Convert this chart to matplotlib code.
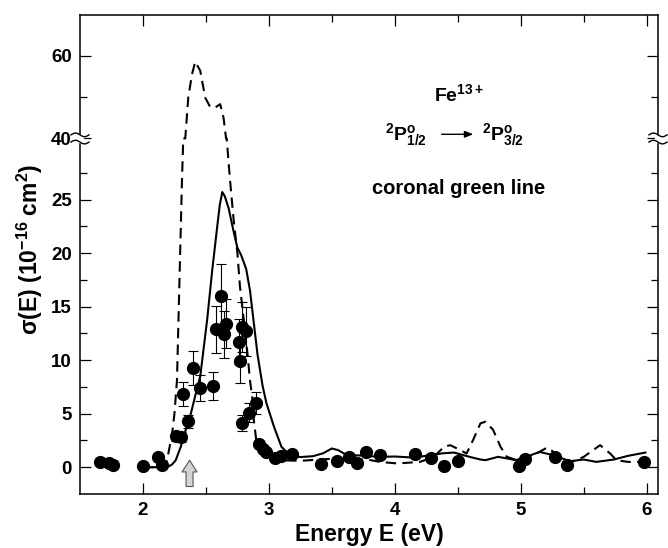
import numpy as np
import matplotlib
matplotlib.use("Agg")
import matplotlib.pyplot as plt
from matplotlib.ticker import FixedLocator

plt.rcParams.update({
    "font.family": "Liberation Sans",
    "font.weight": "bold",
    "axes.labelweight": "bold",
    "mathtext.fontset": "custom",
    "mathtext.rm": "Liberation Sans:bold",
    "mathtext.bf": "Liberation Sans:bold",
    "mathtext.it": "Liberation Sans",
    "mathtext.default": "rm",
})

# --- measured cross section (points with error bars) ---
e_data = [1.66, 1.73, 1.76, 2.00, 2.12, 2.15, 2.26, 2.30, 2.32, 2.36, 2.40, 2.45,
          2.56, 2.58, 2.62, 2.64, 2.66, 2.76, 2.77, 2.79, 2.82, 2.79, 2.84, 2.90,
          2.92, 2.95, 2.98, 3.05, 3.10, 3.18, 3.41, 3.54, 3.64, 3.70, 3.77, 3.88,
          4.16, 4.29, 4.39, 4.50, 4.99, 5.03, 5.27, 5.37, 5.98]
sig_data = [0.45, 0.35, 0.2, 0.1, 1.0, 0.25, 2.9, 2.85, 6.85, 4.3, 9.3, 7.4,
            7.6, 12.9, 16.0, 12.4, 13.4, 11.7, 9.9, 13.1, 12.7, 4.15, 5.1, 6.0,
            2.2, 1.7, 1.45, 0.9, 1.05, 1.2, 0.3, 0.56, 1.0, 0.4, 1.4, 1.1,
            1.25, 0.87, 0.1, 0.6, 0.09, 0.81, 0.97, 0.25, 0.5]
err_data = [0, 0, 0, 0, 0, 0, 0.45, 0.45, 1.15, 0.6, 1.6, 1.25,
            1.3, 2.2, 3.0, 2.2, 2.3, 2.1, 2.0, 2.3, 2.3, 0.75, 0.9, 1.0,
            0, 0, 0, 0, 0, 0, 0, 0, 0, 0, 0, 0,
            0, 0, 0, 0, 0, 0, 0, 0, 0]

# --- theory, solid curve ---
e_solid = [2.00, 2.10, 2.17, 2.20, 2.23, 2.26, 2.30, 2.34, 2.38, 2.42, 2.455, 2.51,
           2.55, 2.59, 2.61, 2.63, 2.65, 2.68, 2.72, 2.75, 2.78, 2.82, 2.85, 2.88,
           2.91, 2.95, 2.98, 3.04, 3.10, 3.17, 3.25, 3.35, 3.43, 3.50, 3.55, 3.62,
           3.72, 3.88, 4.00, 4.15, 4.28, 4.38, 4.47, 4.60, 4.68, 4.72, 4.82, 4.90,
           4.96, 5.05, 5.15, 5.26, 5.39, 5.50, 5.60, 5.74, 5.85, 5.99]
sig_solid = [0.0, 0.0, 0.0, 0.05, 0.25, 0.65, 1.9, 3.5, 5.0, 6.9, 8.5, 13.8,
             18.4, 22.5, 24.5, 25.7, 25.3, 24.2, 22.0, 20.5, 19.8, 18.5, 16.5, 13.5,
             10.5, 7.6, 6.0, 3.8, 1.9, 1.1, 0.95, 1.03, 1.3, 1.75, 1.6, 1.12,
             1.1, 0.97, 1.0, 0.9, 1.12, 1.3, 1.37, 0.95, 0.72, 0.66, 0.97, 0.8,
             0.66, 1.0, 1.43, 1.12, 0.56, 0.72, 0.5, 0.72, 1.06, 1.37]

# --- theory, dashed curve ---
e_dash = [2.00, 2.12, 2.17, 2.19, 2.23, 2.25, 2.27, 2.29, 2.31, 2.32, 2.336, 2.36,
          2.39, 2.415, 2.455, 2.494, 2.534, 2.574, 2.613, 2.64, 2.66, 2.665, 2.69, 2.72,
          2.75, 2.77, 2.80, 2.83, 2.85, 2.87, 2.88, 2.90, 2.96, 3.06, 3.25, 3.51,
          3.62, 3.78, 3.88, 4.02, 4.20, 4.31, 4.39, 4.44, 4.52, 4.57, 4.62, 4.68,
          4.72, 4.78, 4.84, 4.89, 4.97, 5.10, 5.21, 5.26, 5.34, 5.42, 5.50, 5.63,
          5.71, 5.76, 5.85, 5.97]
sig_dash = [0.0, 0.0, 0.2, 0.6, 3.0, 5.0, 8.1, 17.5, 26.9, 30.7, 40.0, 50.0,
            55.6, 58.6, 56.4, 49.9, 47.6, 47.5, 48.3, 45.0, 40.0, 30.7, 27.0, 23.1,
            20.0, 16.9, 13.8, 10.6, 8.1, 6.3, 4.4, 2.5, 1.28, 0.66, 0.6, 0.8,
            0.66, 0.72, 0.5, 0.35, 0.5, 0.97, 1.9, 2.06, 1.6, 1.28, 2.5, 4.1,
            4.25, 3.5, 1.9, 0.97, 0.66, 1.12, 1.84, 1.43, 0.66, 0.56, 0.97, 2.06,
            1.28, 0.66, 0.5, 0.5]

threshold_e = 2.37

# broken y axis: 0..30.7 linear, 40..70 compressed
B, U0, R, EPS = 30.7, 40.0, 0.385, 0.001
T0 = B + (U0 - B) * EPS


def fwd(y):
    y = np.asarray(y, float)
    return np.where(y <= B, y,
                    np.where(y < U0, B + (y - B) * EPS, T0 + (y - U0) * R))


def inv(t):
    t = np.asarray(t, float)
    with np.errstate(all="ignore"):
        return np.where(t <= B, t,
                        np.where(t < T0, B + (t - B) / EPS, U0 + (t - T0) / R))


fig = plt.figure(figsize=(6.68, 5.48), dpi=100)
ax = fig.add_axes([80 / 668, 54 / 548, 578 / 668, 479.3 / 548])
ax.set_yscale("function", functions=(fwd, inv))
ax.set_xlim(1.5, 6.09)
ax.set_ylim(-2.5, 70)

ax.plot(e_dash, sig_dash, color="black", lw=1.5, ls=(0, (5, 3)))
ax.plot(e_solid, sig_solid, color="black", lw=1.5)

e_arr, s_arr, d_arr = np.array(e_data), np.array(sig_data), np.array(err_data)
m = d_arr > 0
ax.errorbar(e_arr[m], s_arr[m], yerr=d_arr[m], fmt="none", ecolor="black",
            elinewidth=0.8, capsize=3.6, capthick=0.8)
ax.plot(e_arr, s_arr, "o", color="black", ms=8.5)

# threshold arrow
ax.annotate("", xy=(threshold_e, 0.65), xytext=(threshold_e, -1.8),
            arrowprops=dict(arrowstyle="simple,head_length=0.7,head_width=0.9,tail_width=0.42",
                            fc="#d4d4d4", ec="#555555", lw=0.8, mutation_scale=12,
                            shrinkA=0, shrinkB=0))

# ticks
ax.xaxis.set_major_locator(FixedLocator([2, 3, 4, 5, 6]))
ax.xaxis.set_minor_locator(FixedLocator([2.5, 3.5, 4.5, 5.5]))
ax.yaxis.set_major_locator(FixedLocator([0, 5, 10, 15, 20, 25, 40, 60]))
ax.yaxis.set_minor_locator(FixedLocator([2.5, 7.5, 12.5, 17.5, 22.5, 27.5, 50]))
ax.tick_params(which="both", direction="in", top=True, right=True, labelsize=13.5,
               width=0.9, colors="black")
ax.tick_params(which="major", length=8, pad=6)
ax.tick_params(which="minor", length=5)
for s in ax.spines.values():
    s.set_linewidth(1.1)

ax.set_xlabel("Energy E (eV)", fontsize=16.5, labelpad=3)
ax.set_ylabel(r"$\mathit{\sigma}$(E) (10$^{-16}$ cm$^{2}$)", fontsize=16.5)
ax.yaxis.set_label_coords(-0.06, 0.51)

# break marks on both y spines
ybrk = ax.transAxes.inverted().transform(ax.transData.transform((2.0, B)))[1]
px_x, px_y = 1 / 578, 1 / 479.3
tt = np.linspace(0, 2 * np.pi, 40)
wx = (tt / (2 * np.pi) - 0.5) * 18 * px_x
for xs in (0.0, 1.0):
    ax.fill_between([xs - 3 * px_x, xs + 3 * px_x], ybrk - 3.2 * px_y, ybrk + 3.2 * px_y,
                    color="white", transform=ax.transAxes, clip_on=False, zorder=5)
    for off in (-3.6, 3.6):
        ax.plot(xs + wx, ybrk + (off + 1.8 * np.sin(tt)) * px_y, color="black", lw=1.0,
                transform=ax.transAxes, clip_on=False, zorder=6)

# annotations
ax.text(0.655, 0.82, r"Fe$^{13+}$", transform=ax.transAxes, fontsize=14,
        ha="center", va="baseline")
ax.text(0.528, 0.7386, r"$^{2}$P$^{o}_{1/2}$", transform=ax.transAxes, fontsize=14,
        ha="left", va="baseline")
ax.text(0.695, 0.7386, r"$^{2}$P$^{o}_{3/2}$", transform=ax.transAxes, fontsize=14,
        ha="left", va="baseline")
ax.annotate("", xy=(0.6804, 0.7505), xytext=(0.6257, 0.7505), xycoords="axes fraction",
            arrowprops=dict(arrowstyle="-|>,head_length=0.5,head_width=0.2",
                            color="black", lw=1.0, shrinkA=0, shrinkB=0))
ax.text(0.655, 0.626, "coronal green line", transform=ax.transAxes, fontsize=14.5,
        ha="center", va="baseline")

fig.savefig("out.png", dpi=100)
